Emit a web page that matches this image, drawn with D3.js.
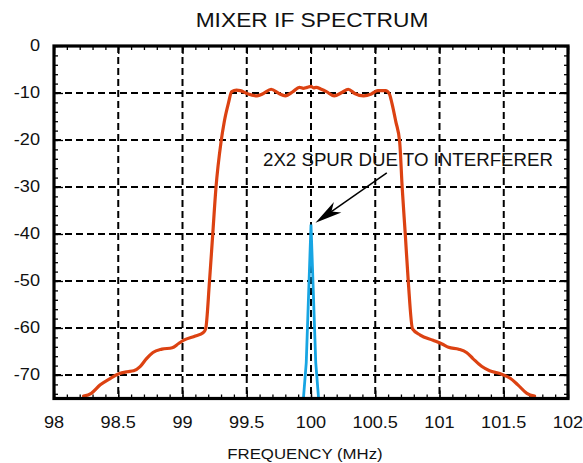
<!DOCTYPE html>
<html><head><meta charset="utf-8">
<script src="https://cdn.jsdelivr.net/npm/d3@7"></script>
<style>
html,body{margin:0;padding:0;background:#fff;}
svg{display:block;}
text{font-family:"Liberation Sans",Arial,Helvetica,sans-serif;fill:#111;}
</style></head>
<body>
<svg id="chart" width="583" height="463"></svg>
<script>
// ---- data ----
const title = "MIXER IF SPECTRUM";
const xLabel = "FREQUENCY (MHz)";
const annotationText = "2X2 SPUR DUE TO INTERFERER";
const xTicks = [98, 98.5, 99, 99.5, 100, 100.5, 101, 101.5, 102];
const yTicks = [0, -10, -20, -30, -40, -50, -60, -70];
const ifFreq = [98.23,98.29,98.36,98.44,98.50,98.57,98.62,98.67,98.72,98.77,98.84,98.92,98.97,99.01,99.10,99.16,99.18,99.21,99.235,99.26,99.30,99.325,99.357,99.383,99.42,99.45,99.50,99.58,99.63,99.69,99.75,99.80,99.86,99.91,99.94,99.97,100.0,100.02,100.04,100.08,100.12,100.18,100.24,100.29,100.34,100.41,100.47,100.52,100.58,100.61,100.63,100.66,100.69,100.71,100.734,100.757,100.79,100.85,100.95,101.02,101.07,101.15,101.21,101.26,101.33,101.39,101.47,101.55,101.61,101.68,101.74];
const ifLevel = [-74.5,-73.9,-72.1,-70.7,-69.8,-69.3,-69.1,-68.2,-66.5,-65.2,-64.5,-64.2,-63.3,-62.6,-61.7,-61.0,-60.2,-50.1,-40.2,-30.3,-20.4,-16.1,-12.2,-9.7,-9.4,-9.5,-10.1,-10.6,-10.1,-9.2,-10.1,-10.6,-9.7,-8.8,-9.0,-8.8,-8.6,-8.9,-8.8,-9.2,-9.7,-10.6,-9.9,-9.2,-10.1,-10.6,-10.2,-9.5,-9.5,-10.2,-12.2,-16.1,-20.4,-30.3,-40.2,-50.1,-60.2,-61.5,-62.6,-63.4,-64.1,-64.5,-65.2,-66.5,-68.2,-69.1,-69.7,-70.7,-72.1,-73.9,-74.5];
const spurFreq = [99.938, 99.963, 100.0, 100.037, 100.062];
const spurLevel = [-76, -67.4, -38, -67.4, -76];
const arrowFrom = [100.59, -27.0];
const arrowTo = [100.035, -37.6];

// ---- layout ----
const svg = d3.select("#chart");
const L = 54, R = 568, T = 46, B = 398.5;
const SX = 1.12; // horizontal stretch of axis text
const x = d3.scaleLinear().domain([98, 102]).range([L, R]);
const y = d3.scaleLinear().domain([0, -75]).range([T, B]);

svg.append("defs").append("clipPath").attr("id", "clip")
  .append("rect").attr("x", L).attr("y", T).attr("width", R - L).attr("height", B - T);

// grid
const grid = svg.append("g").attr("stroke", "#000").attr("stroke-width", 2).attr("stroke-dasharray", "7,4");
grid.selectAll("line.v").data(xTicks.filter(d => d > 98 && d < 102)).join("line")
  .attr("x1", d => x(d)).attr("x2", d => x(d)).attr("y1", T).attr("y2", B);
grid.selectAll("line.h").data(yTicks.filter(d => d < 0)).join("line")
  .attr("x1", L).attr("x2", R).attr("y1", d => y(d)).attr("y2", d => y(d));

// minor/major ticks (inside, all four sides)
const minorX = d3.range(98, 102.001, 0.1);
const minorY = d3.range(0, -75.001, -2);
function tickAxis(axisFn, scale, vals, size, tr) {
  const g = svg.append("g").attr("transform", tr)
    .call(axisFn(scale).tickValues(vals).tickSize(size).tickFormat(""));
  g.select(".domain").remove();
  g.selectAll(".tick line").attr("stroke", "#000").attr("stroke-width", 1.3);
  return g;
}
tickAxis(d3.axisBottom, x, minorX, -4, `translate(0,${B})`);
tickAxis(d3.axisTop, x, minorX, -4, `translate(0,${T})`);
tickAxis(d3.axisLeft, y, minorY, -4, `translate(${L},0)`);
tickAxis(d3.axisRight, y, minorY, -4, `translate(${R},0)`);
tickAxis(d3.axisBottom, x, xTicks, -8, `translate(0,${B})`);
tickAxis(d3.axisTop, x, xTicks, -8, `translate(0,${T})`);
tickAxis(d3.axisLeft, y, yTicks, -9, `translate(${L},0)`);
tickAxis(d3.axisRight, y, yTicks, -9, `translate(${R},0)`);

// curves
const line = d3.line().x(d => x(d[0])).y(d => y(d[1]));
const plot = svg.append("g").attr("clip-path", "url(#clip)");
plot.append("path").datum(ifFreq.map((f, i) => [f, ifLevel[i]]))
  .attr("fill", "none").attr("stroke", "#dc4212").attr("stroke-width", 3.2)
  .attr("stroke-linejoin", "round").attr("stroke-linecap", "round")
  .attr("d", line.curve(d3.curveMonotoneX));
plot.append("path").datum(spurFreq.map((f, i) => [f, spurLevel[i]]))
  .attr("fill", "none").attr("stroke", "#17a5e3").attr("stroke-width", 2.8)
  .attr("stroke-linejoin", "miter")
  .attr("d", d3.line().x(d => x(d[0])).y(d => y(d[1]))(spurFreq.map((f, i) => [f, spurLevel[i]])));

// frame
svg.append("rect").attr("x", L).attr("y", T).attr("width", R - L).attr("height", B - T)
  .attr("fill", "none").attr("stroke", "#000").attr("stroke-width", 3.2);

// tick labels
svg.append("g").selectAll("text").data(xTicks).join("text")
  .attr("transform", d => `translate(${x(d)},428) scale(${SX},1)`)
  .attr("text-anchor", "middle").attr("font-size", 16.2)
  .text(d => d3.format("~g")(d));
svg.append("g").selectAll("text").data(yTicks).join("text")
  .attr("transform", d => `translate(40,${y(d) + 4.5}) scale(${SX},1)`)
  .attr("text-anchor", "end").attr("font-size", 16.2)
  .text(d => d);

// titles
svg.append("text").attr("transform", `translate(312,27) scale(1.15,1)`)
  .attr("text-anchor", "middle").attr("font-size", 19.8).text(title);
svg.append("text").attr("transform", `translate(305,459) scale(1.12,1)`)
  .attr("text-anchor", "middle").attr("font-size", 15).text(xLabel);

// annotation
svg.append("text").attr("x", 263).attr("y", 166).attr("font-size", 18)
  .attr("textLength", 290).attr("lengthAdjust", "spacingAndGlyphs")
  .text(annotationText);
const ax0 = x(arrowFrom[0]), ay0 = y(arrowFrom[1]), ax1 = x(arrowTo[0]), ay1 = y(arrowTo[1]);
const ang = Math.atan2(ay1 - ay0, ax1 - ax0);
const hl = 27, hw = 6.5;
const bx = ax1 - hl * Math.cos(ang), by = ay1 - hl * Math.sin(ang);
const nx = -Math.sin(ang), ny = Math.cos(ang);
svg.append("line").attr("x1", ax0).attr("y1", ay0)
  .attr("x2", ax1 - 15 * Math.cos(ang)).attr("y2", ay1 - 15 * Math.sin(ang))
  .attr("stroke", "#000").attr("stroke-width", 1.5);
const nb = 0.72;
svg.append("path").attr("fill", "#000")
  .attr("d", `M${ax1},${ay1} L${bx + hw * nx},${by + hw * ny} L${ax1 - hl * nb * Math.cos(ang)},${ay1 - hl * nb * Math.sin(ang)} L${bx - hw * nx},${by - hw * ny} Z`);
</script>
</body></html>
